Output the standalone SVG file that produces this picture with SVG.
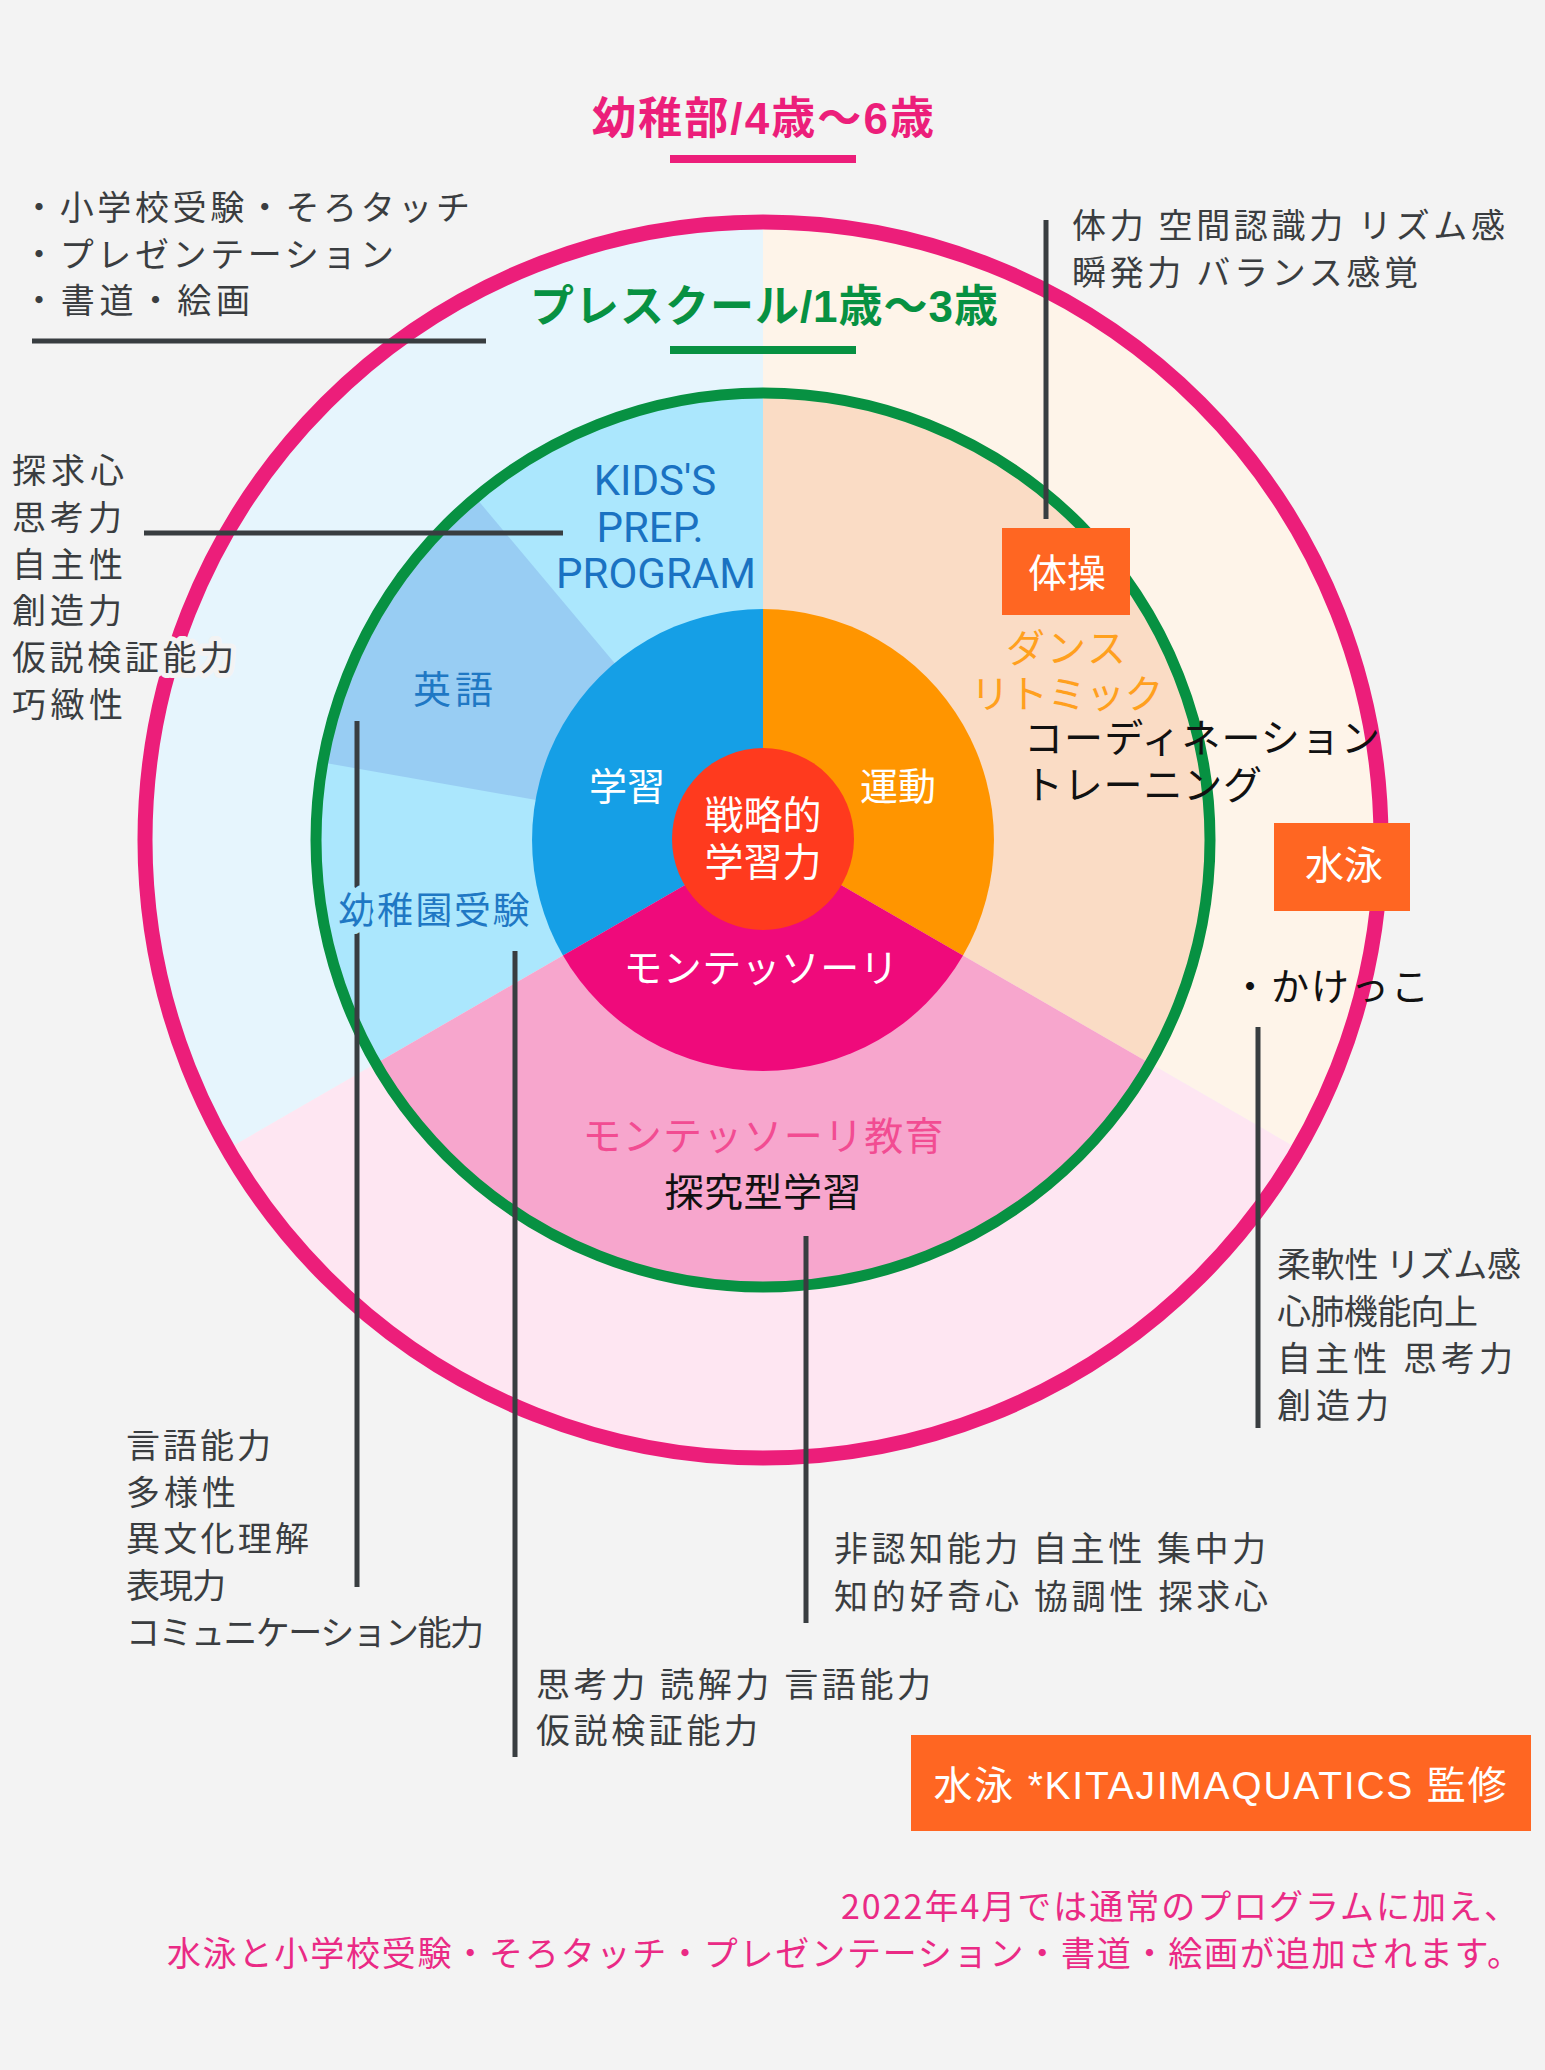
<svg xmlns="http://www.w3.org/2000/svg" width="1545" height="2070" viewBox="0 0 1545 2070">
<style>
text{font-family:"Noto Sans CJK JP","Noto Sans CJK SC",sans-serif;}
.lat{font-family:"Liberation Sans","Noto Sans CJK JP",sans-serif;}
.g{fill:#3a3d40;font-size:34px;}
.halo{paint-order:stroke;stroke:#f3f3f3;stroke-width:10px;stroke-linejoin:round;}
.w{fill:#ffffff;}
.ln{stroke:#383d40;stroke-width:5;fill:none;}
.box{fill:#ff6622;}
.mid{text-anchor:middle;}
</style>
<rect x="0" y="0" width="1545" height="2070" fill="#f3f3f3"/>

<g id="outer-ring">
<path d="M763 840 L763 222 A618 618 0 0 0 227.8 1149 Z" fill="#e6f5fd"/>
<path d="M763 840 L763 222 A618 618 0 0 1 1298.2 1149 Z" fill="#fef4e9"/>
<path d="M763 840 L1298.2 1149 A618 618 0 0 1 227.8 1149 Z" fill="#fee6f2"/>
<circle cx="763" cy="840" r="618" fill="none" stroke="#ec1e7a" stroke-width="15"/>
</g>

<g id="preschool-ring">
<path d="M763 840 L763 393 A447 447 0 0 0 375.9 1063.5 Z" fill="#abe7fd"/>
<path d="M763 840 L763 393 A447 447 0 0 1 1150.1 1063.5 Z" fill="#fadcc5"/>
<path d="M763 840 L1150.1 1063.5 A447 447 0 0 1 375.9 1063.5 Z" fill="#f7a6cd"/>
<path d="M763 840 L475.7 497.6 A447 447 0 0 0 322.8 762.4 Z" fill="#98cdf3"/>
<circle cx="763" cy="840" r="447" fill="none" stroke="#079142" stroke-width="11"/>
</g>

<g id="core">
<path d="M763 840 L763 609 A231 231 0 0 0 563 955.5 Z" fill="#159fe6"/>
<path d="M763 840 L763 609 A231 231 0 0 1 963 955.5 Z" fill="#ff9500"/>
<path d="M763 840 L963 955.5 A231 231 0 0 1 563 955.5 Z" fill="#ef0a7b"/>
<circle cx="763" cy="839" r="91" fill="#ff3a1e"/>
</g>

<g id="connectors">
<line class="ln" x1="32" y1="341" x2="486" y2="341"/>
<line class="ln" x1="144" y1="533" x2="563" y2="533"/>
<line class="ln" x1="1046" y1="220" x2="1046" y2="519"/>
<line class="ln" x1="1258" y1="1027" x2="1258" y2="1428"/>
<line class="ln" x1="806" y1="1236" x2="806" y2="1623"/>
<line class="ln" x1="515" y1="951" x2="515" y2="1757"/>
<line class="ln" x1="357" y1="721" x2="357" y2="1587"/>
</g>

<g id="title-kindergarten">
<text class="lat mid" x="763" y="134" font-size="44" font-weight="700" fill="#ec1e7a" textLength="342">幼稚部/4歳〜6歳</text>
<rect x="670" y="155" width="186" height="8" fill="#ec1e7a"/>
</g>

<g id="title-preschool">
<text class="lat mid" x="764" y="322" font-size="44" font-weight="700" fill="#079142" textLength="468">プレスクール/1歳〜3歳</text>
<rect x="670" y="346" width="186" height="8" fill="#079142"/>
</g>

<g id="list-top-left">
<text class="g" x="22" y="220" textLength="448">・小学校受験・そろタッチ</text>
<text class="g" x="22" y="267" textLength="372">・プレゼンテーション</text>
<text class="g" x="22" y="313" textLength="228">・書道・絵画</text>
</g>

<g id="list-top-right">
<text class="g" x="1072" y="238" textLength="433">体力 空間認識力 リズム感</text>
<text class="g" x="1072" y="285" textLength="346">瞬発力 バランス感覚</text>
</g>

<g id="list-left">
<text class="g halo" x="12" y="483" textLength="112">探求心</text>
<text class="g halo" x="12" y="530" textLength="110">思考力</text>
<text class="g halo" x="12" y="577" textLength="111">自主性</text>
<text class="g halo" x="12" y="623" textLength="110">創造力</text>
<text class="g halo" x="12" y="670" textLength="222">仮説検証能力</text>
<text class="g halo" x="12" y="717" textLength="111">巧緻性</text>
</g>

<g id="kids-prep">
<text class="mid" x="655" y="495" font-size="42" fill="#1a72c2" style="font-family:Roboto,'Liberation Sans',sans-serif">KIDS'S</text>
<text class="mid" x="650" y="542" font-size="42" fill="#1a72c2" style="font-family:Roboto,'Liberation Sans',sans-serif">PREP.</text>
<text class="mid" x="656" y="588" font-size="42" fill="#1a72c2" style="font-family:Roboto,'Liberation Sans',sans-serif">PROGRAM</text>
</g>

<g id="english">
<text class="mid" x="453" y="703" font-size="38" fill="#1f78c4" textLength="80">英語</text>
</g>

<g id="kindergarten-exam">
<text class="mid" x="434" y="924" font-size="37" fill="#1f78c4" textLength="191" style="paint-order:stroke;stroke:#abe7fd;stroke-width:14px;stroke-linejoin:round">幼稚園受験</text>
</g>

<g id="gymnastics">
<rect class="box" x="1002" y="528" width="128" height="87"/>
<text class="w mid" x="1067" y="587" font-size="39">体操</text>
</g>

<g id="dance">
<text class="mid" x="1066" y="662" font-size="39" fill="#ffa01e" textLength="120">ダンス</text>
<text class="mid" x="1067" y="708" font-size="39" fill="#ffa01e" textLength="193">リトミック</text>
</g>

<g id="coordination">
<text x="1024" y="752" font-size="39" fill="#111111" textLength="356">コーディネーション</text>
<text x="1024" y="799" font-size="39" fill="#111111" textLength="238">トレーニング</text>
</g>

<g id="swimming">
<rect class="box" x="1274" y="823" width="136" height="88"/>
<text class="w mid" x="1344" y="879" font-size="39">水泳</text>
</g>

<g id="running">
<text x="1231" y="1000" font-size="38" fill="#111111" textLength="198">・かけっこ</text>
</g>

<g id="list-right">
<text class="g" x="1277" y="1277" textLength="244">柔軟性 リズム感</text>
<text class="g" x="1277" y="1324" textLength="201">心肺機能向上</text>
<text class="g" x="1277" y="1371" textLength="236">自主性 思考力</text>
<text class="g" x="1277" y="1418" textLength="112">創造力</text>
</g>

<g id="center">
<text class="w mid" x="763" y="829" font-size="39">戦略的</text>
<text class="w mid" x="763" y="876" font-size="39">学習力</text>
</g>

<g id="study">
<text class="w mid" x="627" y="800" font-size="38">学習</text>
</g>

<g id="exercise">
<text class="w mid" x="898" y="800" font-size="38">運動</text>
</g>

<g id="montessori">
<text class="w mid" x="761" y="982" font-size="39" textLength="275">モンテッソーリ</text>
</g>

<g id="montessori-education">
<text class="mid" x="763" y="1150" font-size="39" fill="#f24c92" textLength="361">モンテッソーリ教育</text>
<text class="mid" x="763" y="1206" font-size="39" fill="#111111" textLength="197">探究型学習</text>
</g>

<g id="list-bottom-center">
<text class="g" x="834" y="1561" textLength="432">非認知能力 自主性 集中力</text>
<text class="g" x="834" y="1609" textLength="434">知的好奇心 協調性 探求心</text>
</g>

<g id="list-bottom-mid">
<text class="g" x="536" y="1697" textLength="395">思考力 読解力 言語能力</text>
<text class="g" x="536" y="1743" textLength="222">仮説検証能力</text>
</g>

<g id="list-bottom-left">
<text class="g" x="126" y="1458" textLength="145">言語能力</text>
<text class="g" x="126" y="1505" textLength="110">多様性</text>
<text class="g" x="126" y="1551" textLength="183">異文化理解</text>
<text class="g" x="126" y="1598" textLength="100">表現力</text>
<text class="g" x="126" y="1645" textLength="358">コミュニケーション能力</text>
</g>

<g id="swim-note">
<rect class="box" x="911" y="1735" width="620" height="96"/>
<text class="w mid lat" x="1220" y="1799" font-size="39" textLength="573">水泳 *KITAJIMAQUATICS 監修</text>
</g>

<g id="footnote">
<text x="841" y="1919" font-size="34" fill="#ea2a85" textLength="677">2022年4月では通常のプログラムに加え、</text>
<text x="167" y="1966" font-size="34" fill="#ea2a85" textLength="1354">水泳と小学校受験・そろタッチ・プレゼンテーション・書道・絵画が追加されます。</text>
</g>
</svg>
